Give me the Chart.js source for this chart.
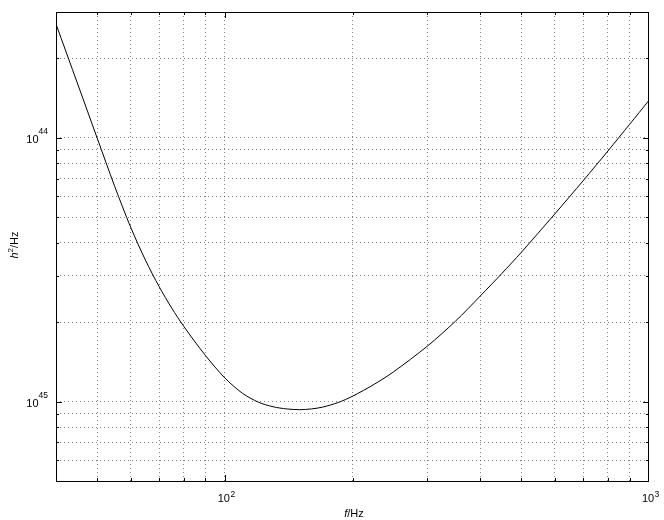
<!DOCTYPE html>
<html>
<head>
<meta charset="utf-8">
<script src="https://cdn.jsdelivr.net/npm/chart.js@4"></script>
<style>
  html, body { margin:0; padding:0; background:#fff; }
  canvas { display:block; }
</style>
</head>
<body>
<canvas id="chart" width="664" height="520"></canvas>
<script>
// values
const freqHz = [40, 45, 50, 55, 60, 65, 70, 75, 80, 90, 100, 110, 120, 130, 140, 150, 160, 170, 185, 200,
                225, 250, 300, 350, 400, 450, 500, 600, 700, 800, 900, 1000];
const psd = [2.70e-44, 1.60e-44, 1.0e-44, 6.55e-45, 4.58e-45, 3.44e-45, 2.73e-45, 2.26e-45, 1.93e-45, 1.496e-45,
             1.23e-45, 1.076e-45, 9.95e-46, 9.56e-46, 9.38e-46, 9.32e-46, 9.38e-46, 9.53e-46, 9.92e-46, 1.048e-45,
             1.163e-45, 1.297e-45, 1.621e-45, 2.02e-45, 2.512e-45, 3.062e-45, 3.681e-45, 5.152e-45, 6.887e-45,
             8.913e-45, 1.125e-44, 1.387e-44];

// grid / ticks
const xGrid = [50, 60, 70, 80, 90, 100, 200, 300, 400, 500, 600, 700, 800, 900];
const yGrid = [6e-46, 7e-46, 8e-46, 9e-46, 1e-45, 2e-45, 3e-45, 4e-45, 5e-45, 6e-45, 7e-45, 8e-45, 9e-45, 1e-44, 2e-44];
const xMajor = [100, 1000];
const xMajorLabels = [['10', '2'], ['10', '3']];
const yMajor = [1e-44, 1e-45];
const yMajorLabels = [['10', '44'], ['10', '45']];

const FONT = '"Liberation Sans", Arial, Helvetica, sans-serif';

const decorPlugin = {
  id: 'decor',
  afterDraw(chart) {
    const ctx = chart.ctx;
    const a = chart.chartArea;
    const sx = chart.scales.x, sy = chart.scales.y;
    ctx.save();

    // frame
    ctx.strokeStyle = '#000';
    ctx.lineWidth = 1;
    ctx.setLineDash([]);
    ctx.strokeRect(Math.round(a.left) + 0.5, Math.round(a.top) + 0.5,
                   Math.round(a.right - a.left) - 1, Math.round(a.bottom - a.top));

    // inward tick marks
    ctx.beginPath();
    xGrid.forEach(v => {
      const px = Math.round(sx.getPixelForValue(v)) + 0.5;
      const len = xMajor.includes(v) ? 6 : 3;
      ctx.moveTo(px, a.bottom); ctx.lineTo(px, a.bottom - len);
      ctx.moveTo(px, a.top); ctx.lineTo(px, a.top + len);
    });
    yGrid.forEach(v => {
      const py = Math.round(sy.getPixelForValue(v)) + 0.5;
      const len = yMajor.includes(v) ? 6 : 3;
      ctx.moveTo(a.left, py); ctx.lineTo(a.left + len, py);
      ctx.moveTo(a.right, py); ctx.lineTo(a.right - len, py);
    });
    ctx.stroke();

    ctx.fillStyle = '#000';
    ctx.textBaseline = 'alphabetic';
    ctx.textAlign = 'left';

    // y tick labels, 10 with raised exponent
    yMajor.forEach((v, i) => {
      const py = sy.getPixelForValue(v);
      const [base, exp] = yMajorLabels[i];
      ctx.font = '8.5px ' + FONT;
      const we = ctx.measureText(exp).width;
      ctx.font = '11px ' + FONT;
      const wb = ctx.measureText(base).width;
      const right = a.left - 8;
      ctx.fillText(base, right - we - wb, py + 5.5);
      ctx.font = '8.5px ' + FONT;
      ctx.fillText(exp, right - we, py - 3.5);
    });

    // x tick labels
    xMajor.forEach((v, i) => {
      const px = sx.getPixelForValue(v);
      const [base, exp] = xMajorLabels[i];
      ctx.font = '11px ' + FONT;
      const wb = ctx.measureText(base).width;
      ctx.fillText(base, px - 1 - wb / 2, a.bottom + 21);
      ctx.font = '8.5px ' + FONT;
      ctx.fillText(exp, px - 1 + wb / 2 + 0.5, a.bottom + 16);
    });

    // x title: f/Hz
    ctx.font = 'italic 11px ' + FONT;
    const wf = ctx.measureText('f').width;
    ctx.font = '11px ' + FONT;
    const wr = ctx.measureText('/Hz').width;
    const x0 = 354 - (wf + wr) / 2;
    ctx.font = 'italic 11px ' + FONT;
    ctx.fillText('f', x0, a.bottom + 36);
    ctx.font = '11px ' + FONT;
    ctx.fillText('/Hz', x0 + wf, a.bottom + 36);

    // y title: h^2/Hz, rotated
    ctx.translate(18, 245);
    ctx.rotate(-Math.PI / 2);
    ctx.font = 'italic 11px ' + FONT;
    const wh = ctx.measureText('h').width;
    ctx.font = '8px ' + FONT;
    const w2 = ctx.measureText('2').width;
    ctx.font = '11px ' + FONT;
    const wz = ctx.measureText('/Hz').width;
    const t = -(wh + w2 + wz) / 2;
    ctx.font = 'italic 11px ' + FONT;
    ctx.fillText('h', t, 0);
    ctx.font = '8px ' + FONT;
    ctx.fillText('2', t + wh, -5);
    ctx.font = '11px ' + FONT;
    ctx.fillText('/Hz', t + wh + w2, 0);

    ctx.restore();
  }
};

const gridColor = 'rgba(0,0,0,0.5)';

new Chart(document.getElementById('chart').getContext('2d'), {
  type: 'line',
  data: {
    datasets: [{
      data: freqHz.map((f, i) => ({ x: f, y: psd[i] })),
      borderColor: '#000',
      borderWidth: 1,
      pointRadius: 0,
      fill: false,
      tension: 0.3
    }]
  },
  options: {
    responsive: false,
    animation: false,
    devicePixelRatio: 1,
    layout: { padding: { left: 56, right: 15, top: 12, bottom: 39 } },
    plugins: { legend: { display: false }, tooltip: { enabled: false } },
    scales: {
      x: {
        type: 'logarithmic', min: 40, max: 1000,
        afterBuildTicks: s => { s.ticks = xGrid.map(v => ({ value: v })); },
        ticks: { display: false },
        grid: { color: gridColor, lineWidth: 1, drawTicks: false },
        border: { display: false, dash: [1, 3] }
      },
      y: {
        type: 'logarithmic', min: 5e-46, max: 3e-44,
        afterBuildTicks: s => { s.ticks = yGrid.map(v => ({ value: v })); },
        ticks: { display: false },
        grid: { color: gridColor, lineWidth: 1, drawTicks: false },
        border: { display: false, dash: [1, 3] }
      }
    }
  },
  plugins: [decorPlugin]
});
</script>
</body>
</html>
